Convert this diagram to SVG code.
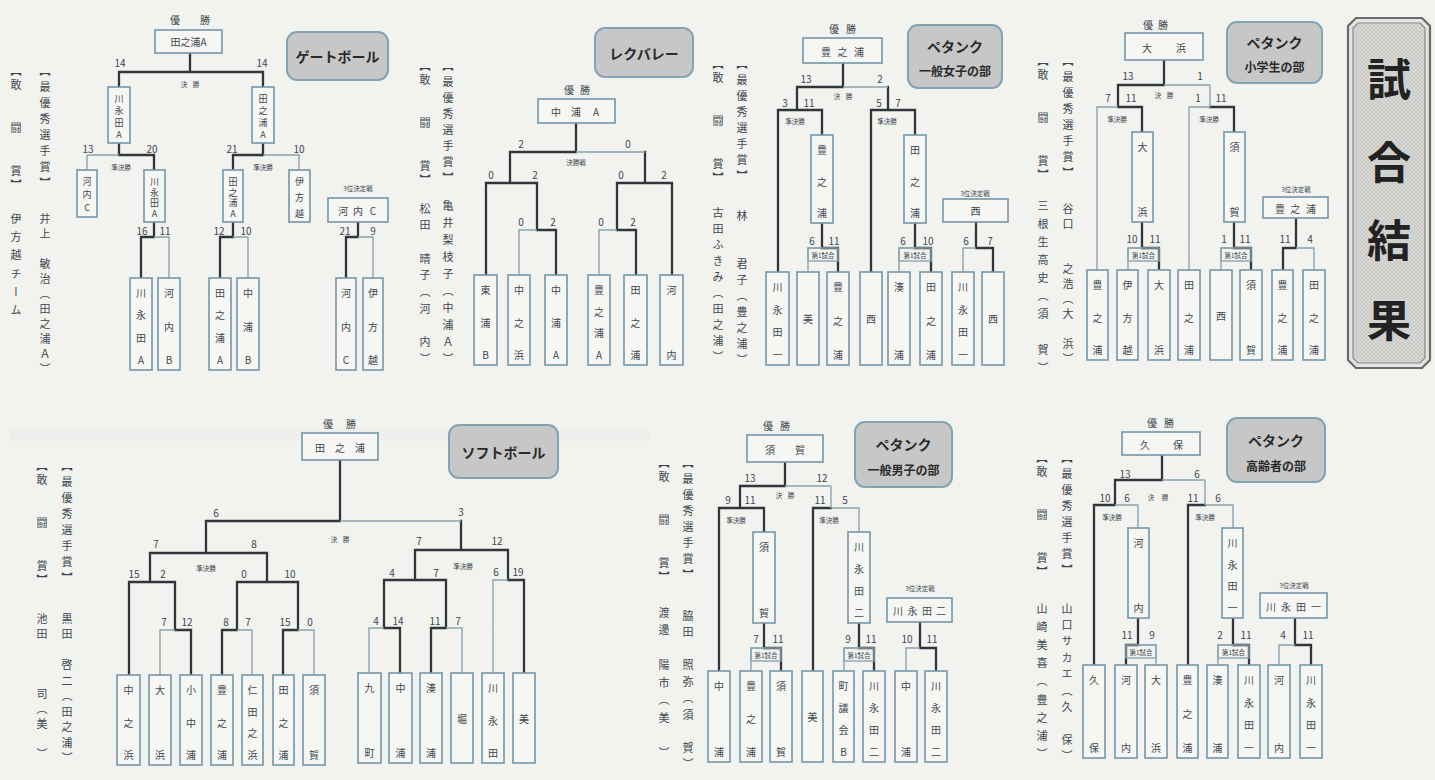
<svg xmlns="http://www.w3.org/2000/svg" width="1435" height="780" viewBox="0 0 1435 780">
<defs>
<pattern id="hatch" width="4" height="4" patternUnits="userSpaceOnUse">
<rect width="4" height="4" fill="#d7d7d5"/>
<path d="M0,4L4,0M0,0L4,4" stroke="#c4c4c2" stroke-width="0.7"/>
</pattern>
<style>
.bx{fill:#f6f6f3;stroke:#7497aa;stroke-width:1.6}
.tt{fill:#c6c7c6;stroke:#84a3b2;stroke-width:2}
.ln{fill:none;stroke:#8ba4b1;stroke-width:1.4}
.tk{fill:none;stroke:#30363b;stroke-width:2.3;stroke-linecap:square}
.t{font-family:"Noto Sans CJK JP","Noto Sans",sans-serif;fill:#3d4851;dominant-baseline:central}
.bl{font-size:10px;text-anchor:middle}
.b9{font-size:9px;text-anchor:middle}
.sc{font-size:10px;text-anchor:middle}
.sm{font-size:6.5px;text-anchor:middle}
.hd{font-size:10px;text-anchor:middle}
.ti{font-size:14px;font-weight:700;text-anchor:middle;fill:#2a2a2a}
.ti2{font-size:12px;font-weight:700;text-anchor:middle;fill:#2a2a2a}
.aw{font-size:11px;writing-mode:vertical-rl;text-orientation:mixed}
.big{font-size:44px;font-weight:700;text-anchor:middle;fill:#222}
</style>
</defs>
<rect width="1435" height="780" fill="#f2f2ef"/>
<rect x="10" y="430" width="640" height="11" fill="#c3cad0" opacity="0.07"/>

<!-- ================= GATEBALL ================= -->
<g id="gateball">
<g id="g1-title"><rect class="tt" x="287" y="32" width="101" height="48" rx="10"/><text class="t ti" x="337.5" y="56">ゲートボール</text></g>
<g id="g1-awards">
<text class="t aw" x="45" y="65" letter-spacing="5">【最優秀選手賞】</text>
<text class="t aw" x="45" y="213" letter-spacing="4">井上　敏治（田之浦Ａ）</text>
<text class="t aw" x="16" y="65" letter-spacing="3.3">【敢　　闘　　賞】</text>
<text class="t aw" x="16" y="213" letter-spacing="7.3">伊方越チーム</text>
</g>
<g id="g1-conn">
<path class="tk" d="M190,53V72 M119,72H263 M119,72V87 M263,72V87 M119,143V155H154V170 M263,143V155H233V170 M154,222V237H141V278 M233,222V237H220V278 M358,222V237H346V278"/>
<path class="ln" d="M87,155H119 M87,155V170 M263,155H299V170 M154,237H169V278 M233,237H248V278 M358,237H373V278"/>
</g>
<g id="g1-labels">
<text class="t hd" y="19"><tspan x="175">優</tspan><tspan x="205">勝</tspan></text>
<text class="t sc" x="120" y="62">14</text><text class="t sc" x="262" y="62">14</text>
<text class="t sm" y="84"><tspan x="184">決</tspan><tspan x="196">勝</tspan></text>
<text class="t sc" x="88" y="148">13</text><text class="t sc" x="152" y="148">20</text><text class="t sm" x="121" y="167">準決勝</text>
<text class="t sc" x="232" y="148">21</text><text class="t sc" x="299" y="148">10</text><text class="t sm" x="263" y="167">準決勝</text>
<text class="t sc" x="142" y="230">16</text><text class="t sc" x="165" y="230">11</text>
<text class="t sc" x="219" y="230">12</text><text class="t sc" x="246" y="230">10</text>
<text class="t sc" x="345" y="230">21</text><text class="t sc" x="373" y="230">9</text>
<text class="t sm" x="358" y="188">3位決定戦</text>
</g>
<g id="g1-champ"><rect class="bx" x="155" y="30" width="67" height="23"/><text class="t bl" x="188.5" y="41.5">田之浦A</text></g>
<g id="g1-s1"><rect class="bx" x="108" y="87" width="22" height="56"/><text class="t b9"><tspan x="119" y="98">川</tspan><tspan x="119" y="110">永</tspan><tspan x="119" y="122">田</tspan><tspan x="119" y="134">A</tspan></text></g>
<g id="g1-s2"><rect class="bx" x="252" y="87" width="22" height="56"/><text class="t b9"><tspan x="263" y="98">田</tspan><tspan x="263" y="110">之</tspan><tspan x="263" y="122">浦</tspan><tspan x="263" y="134">A</tspan></text></g>
<g id="g1-q1"><rect class="bx" x="77" y="170" width="20" height="47"/><text class="t b9"><tspan x="87" y="181">河</tspan><tspan x="87" y="194">内</tspan><tspan x="87" y="207">C</tspan></text></g>
<g id="g1-q2"><rect class="bx" x="144" y="170" width="21" height="52"/><text class="t b9"><tspan x="154.5" y="181">川</tspan><tspan x="154.5" y="191.7">永</tspan><tspan x="154.5" y="202.3">田</tspan><tspan x="154.5" y="213">A</tspan></text></g>
<g id="g1-q3"><rect class="bx" x="223" y="170" width="20" height="52"/><text class="t b9"><tspan x="233" y="181">田</tspan><tspan x="233" y="191.7">之</tspan><tspan x="233" y="202.3">浦</tspan><tspan x="233" y="213">A</tspan></text></g>
<g id="g1-q4"><rect class="bx" x="289" y="170" width="21" height="52"/><text class="t b9"><tspan x="299.5" y="181">伊</tspan><tspan x="299.5" y="197">方</tspan><tspan x="299.5" y="213">越</tspan></text></g>
<g id="g1-p1"><rect class="bx" x="130" y="278" width="22" height="92"/><text class="t bl"><tspan x="141" y="292">川</tspan><tspan x="141" y="314.3">永</tspan><tspan x="141" y="336.7">田</tspan><tspan x="141" y="359">A</tspan></text></g>
<g id="g1-p2"><rect class="bx" x="158" y="278" width="22" height="92"/><text class="t bl"><tspan x="169" y="292">河</tspan><tspan x="169" y="325.5">内</tspan><tspan x="169" y="359">B</tspan></text></g>
<g id="g1-p3"><rect class="bx" x="209" y="278" width="22" height="92"/><text class="t bl"><tspan x="220" y="292">田</tspan><tspan x="220" y="314.3">之</tspan><tspan x="220" y="336.7">浦</tspan><tspan x="220" y="359">A</tspan></text></g>
<g id="g1-p4"><rect class="bx" x="237" y="278" width="22" height="92"/><text class="t bl"><tspan x="248" y="292">中</tspan><tspan x="248" y="325.5">浦</tspan><tspan x="248" y="359">B</tspan></text></g>
<g id="g1-third"><rect class="bx" x="328" y="198" width="60" height="24"/><text class="t bl" y="210"><tspan x="343">河</tspan><tspan x="358">内</tspan><tspan x="373">C</tspan></text></g>
<g id="g1-p5"><rect class="bx" x="336" y="278" width="20" height="92"/><text class="t bl"><tspan x="346" y="292">河</tspan><tspan x="346" y="325.5">内</tspan><tspan x="346" y="359">C</tspan></text></g>
<g id="g1-p6"><rect class="bx" x="363" y="278" width="20" height="92"/><text class="t bl"><tspan x="373" y="292">伊</tspan><tspan x="373" y="325.5">方</tspan><tspan x="373" y="359">越</tspan></text></g>
</g>

<!-- ================= VOLLEYBALL ================= -->
<g id="volleyball">
<g id="v-title"><rect class="tt" x="595" y="28" width="98" height="49" rx="10"/><text class="t ti" x="644" y="53" font-size="15">レクバレー</text></g>
<g id="v-awards">
<text class="t aw" x="448" y="60" letter-spacing="5">【最優秀選手賞】</text>
<text class="t aw" x="448" y="200" letter-spacing="6">亀井梨枝子（中浦Ａ）</text>
<text class="t aw" x="425" y="60" letter-spacing="3.3">【敢　　闘　　賞】</text>
<text class="t aw" x="425" y="203" letter-spacing="5.7">松田　晴子（河　内）</text>
</g>
<g id="v-conn">
<path class="tk" d="M576,123V152 M510,152H576 M510,152V183 M510,183H486V275 M510,183H537V230H556V275 M645,152V183 M617,183H672 M672,183V275 M617,183V230H636V275"/>
<path class="ln" d="M576,152H645 M537,230H519V275 M617,230H599V275"/>
</g>
<g id="v-labels">
<text class="t hd" y="89"><tspan x="569">優</tspan><tspan x="585">勝</tspan></text>
<text class="t sc" x="521" y="143">2</text><text class="t sc" x="628" y="143">0</text>
<text class="t sm" x="576" y="162">決勝戦</text>
<text class="t sc" x="491" y="174">0</text><text class="t sc" x="535" y="174">2</text>
<text class="t sc" x="621" y="174">0</text><text class="t sc" x="664" y="174">2</text>
<text class="t sc" x="521" y="221">0</text><text class="t sc" x="553" y="221">2</text>
<text class="t sc" x="601" y="221">0</text><text class="t sc" x="633" y="221">2</text>
</g>
<g id="v-champ"><rect class="bx" x="538" y="99" width="77" height="24"/><text class="t bl" y="111"><tspan x="556">中</tspan><tspan x="576">浦</tspan><tspan x="596">A</tspan></text></g>
<g id="v-p1"><rect class="bx" x="474" y="275" width="23" height="90"/><text class="t bl"><tspan x="485.5" y="289">東</tspan><tspan x="485.5" y="321.5">浦</tspan><tspan x="485.5" y="354">B</tspan></text></g>
<g id="v-p2"><rect class="bx" x="508" y="275" width="22" height="90"/><text class="t bl"><tspan x="519" y="289">中</tspan><tspan x="519" y="321.5">之</tspan><tspan x="519" y="354">浜</tspan></text></g>
<g id="v-p3"><rect class="bx" x="545" y="275" width="22" height="90"/><text class="t bl"><tspan x="556" y="289">中</tspan><tspan x="556" y="321.5">浦</tspan><tspan x="556" y="354">A</tspan></text></g>
<g id="v-p4"><rect class="bx" x="588" y="275" width="22" height="90"/><text class="t bl"><tspan x="599" y="289">豊</tspan><tspan x="599" y="310.7">之</tspan><tspan x="599" y="332.3">浦</tspan><tspan x="599" y="354">A</tspan></text></g>
<g id="v-p5"><rect class="bx" x="624" y="275" width="23" height="90"/><text class="t bl"><tspan x="635.5" y="289">田</tspan><tspan x="635.5" y="321.5">之</tspan><tspan x="635.5" y="354">浦</tspan></text></g>
<g id="v-p6"><rect class="bx" x="660" y="275" width="23" height="90"/><text class="t bl"><tspan x="671.5" y="289">河</tspan><tspan x="671.5" y="354">内</tspan></text></g>
</g>

<!-- ================= PETANQUE WOMEN ================= -->
<g id="petanque-women">
<g id="w-title"><rect class="tt" x="908" y="25" width="94" height="63" rx="10"/><text class="t ti" x="955" y="46">ペタンク</text><text class="t ti2" x="955" y="70">一般女子の部</text></g>
<g id="w-awards">
<text class="t aw" x="742" y="58" letter-spacing="5">【最優秀選手賞】</text>
<text class="t aw" x="742" y="210" letter-spacing="5">林　　君子（豊之浦）</text>
<text class="t aw" x="718" y="58" letter-spacing="3.3">【敢　　闘　　賞】</text>
<text class="t aw" x="718" y="207" letter-spacing="5">古田ふきみ（田之浦）</text>
</g>
<g id="w-conn">
<path class="tk" d="M843,63V87 M797,87H843 M797,87V110 M797,110H822V135 M797,110H778V272 M888,87V110 M888,110H915V135 M888,110H871V272 M822,223V248H838V272 M915,223V248H931V272 M976,222V248H993V272"/>
<path class="ln" d="M843,87H888 M822,248H808V272 M915,248H899V272 M976,248H963V272"/>
<rect class="ln" x="808" y="248" width="30" height="13"/>
<rect class="ln" x="899" y="248" width="32" height="13"/>
</g>
<g id="w-labels">
<text class="t hd" y="28"><tspan x="834">優</tspan><tspan x="851">勝</tspan></text>
<text class="t sc" x="806" y="78">13</text><text class="t sc" x="880" y="78">2</text>
<text class="t sm" y="96"><tspan x="837">決</tspan><tspan x="849">勝</tspan></text>
<text class="t sc" x="785" y="102">3</text><text class="t sc" x="809" y="102">11</text><text class="t sm" x="795" y="121">準決勝</text>
<text class="t sc" x="879" y="102">5</text><text class="t sc" x="898" y="102">7</text><text class="t sm" x="887" y="121">準決勝</text>
<text class="t sc" x="812" y="240">6</text><text class="t sc" x="834" y="240">11</text><text class="t sm" x="823" y="255" font-size="6">第1試合</text>
<text class="t sc" x="903" y="240">6</text><text class="t sc" x="928" y="240">10</text><text class="t sm" x="915" y="255" font-size="6">第1試合</text>
<text class="t sc" x="966" y="240">6</text><text class="t sc" x="990" y="240">7</text>
<text class="t sm" x="975" y="193">3位決定戦</text>
</g>
<g id="w-champ"><rect class="bx" x="803" y="38" width="79" height="25"/><text class="t bl" y="50.5"><tspan x="826">豊</tspan><tspan x="842.5">之</tspan><tspan x="859">浦</tspan></text></g>
<g id="w-s1"><rect class="bx" x="811" y="135" width="22" height="88"/><text class="t bl"><tspan x="822" y="149">豊</tspan><tspan x="822" y="180.5">之</tspan><tspan x="822" y="212">浦</tspan></text></g>
<g id="w-s2"><rect class="bx" x="904" y="135" width="22" height="88"/><text class="t bl"><tspan x="915" y="149">田</tspan><tspan x="915" y="180.5">之</tspan><tspan x="915" y="212">浦</tspan></text></g>
<g id="w-p1"><rect class="bx" x="766" y="272" width="23" height="93"/><text class="t bl"><tspan x="777.5" y="286">川</tspan><tspan x="777.5" y="308.7">永</tspan><tspan x="777.5" y="331.3">田</tspan><tspan x="777.5" y="354">一</tspan></text></g>
<g id="w-p2"><rect class="bx" x="797" y="272" width="22" height="93"/><text class="t bl" x="808" y="318.5">美</text></g>
<g id="w-p3"><rect class="bx" x="827" y="272" width="22" height="93"/><text class="t bl"><tspan x="838" y="286">豊</tspan><tspan x="838" y="320">之</tspan><tspan x="838" y="354">浦</tspan></text></g>
<g id="w-p4"><rect class="bx" x="860" y="272" width="22" height="93"/><text class="t bl" x="871" y="318.5">西</text></g>
<g id="w-p5"><rect class="bx" x="888" y="272" width="22" height="93"/><text class="t bl"><tspan x="899" y="286">湊</tspan><tspan x="899" y="354">浦</tspan></text></g>
<g id="w-p6"><rect class="bx" x="920" y="272" width="22" height="93"/><text class="t bl"><tspan x="931" y="286">田</tspan><tspan x="931" y="320">之</tspan><tspan x="931" y="354">浦</tspan></text></g>
<g id="w-third"><rect class="bx" x="943" y="199" width="65" height="23"/><text class="t bl" x="975.5" y="210.5">西</text></g>
<g id="w-p7"><rect class="bx" x="952" y="272" width="22" height="93"/><text class="t bl"><tspan x="963" y="286">川</tspan><tspan x="963" y="308.7">永</tspan><tspan x="963" y="331.3">田</tspan><tspan x="963" y="354">一</tspan></text></g>
<g id="w-p8"><rect class="bx" x="982" y="272" width="22" height="93"/><text class="t bl" x="993" y="318.5">西</text></g>
</g>

<!-- ================= PETANQUE KIDS ================= -->
<g id="petanque-kids">
<g id="k-title"><rect class="tt" x="1227" y="22" width="95" height="61" rx="10"/><text class="t ti" x="1274.5" y="42">ペタンク</text><text class="t ti2" x="1274.5" y="66">小学生の部</text></g>
<g id="k-awards">
<text class="t aw" x="1068" y="55" letter-spacing="5">【最優秀選手賞】</text>
<text class="t aw" x="1068" y="203" letter-spacing="4">谷口　　之浩（大　浜）</text>
<text class="t aw" x="1043" y="55" letter-spacing="3.3">【敢　　闘　　賞】</text>
<text class="t aw" x="1043" y="200" letter-spacing="7">三根生高史（須　賀）</text>
</g>
<g id="k-conn">
<path class="tk" d="M1164,60V85 M1118,85H1164 M1118,85V107 M1118,107H1142V132 M1210,107H1234V132 M1142,222V248H1159V270 M1234,222V248H1251V270 M1296,218V248H1283V270"/>
<path class="ln" d="M1118,107H1097V270 M1164,85H1210 M1210,85V107 M1210,107H1189V270 M1142,248H1128V270 M1234,248H1221V270 M1296,248H1314V270"/>
<rect class="ln" x="1128" y="248" width="31" height="13"/>
<rect class="ln" x="1221" y="248" width="30" height="13"/>
</g>
<g id="k-labels">
<text class="t hd" y="24"><tspan x="1148">優</tspan><tspan x="1163">勝</tspan></text>
<text class="t sc" x="1128" y="75">13</text><text class="t sc" x="1200" y="75">1</text>
<text class="t sm" y="95"><tspan x="1158">決</tspan><tspan x="1170">勝</tspan></text>
<text class="t sc" x="1108" y="97">7</text><text class="t sc" x="1131" y="97">11</text><text class="t sm" x="1117" y="119">準決勝</text>
<text class="t sc" x="1198" y="97">1</text><text class="t sc" x="1221" y="97">11</text><text class="t sm" x="1209" y="119">準決勝</text>
<text class="t sc" x="1132" y="238">10</text><text class="t sc" x="1155" y="238">11</text><text class="t sm" x="1143.5" y="255" font-size="6">第1試合</text>
<text class="t sc" x="1224" y="238">1</text><text class="t sc" x="1245" y="238">11</text><text class="t sm" x="1236" y="255" font-size="6">第1試合</text>
<text class="t sc" x="1285" y="238">11</text><text class="t sc" x="1310" y="238">4</text>
<text class="t sm" x="1296" y="189">3位決定戦</text>
</g>
<g id="k-champ"><rect class="bx" x="1125" y="33" width="78" height="27"/><text class="t bl" y="46.5"><tspan x="1147">大</tspan><tspan x="1181">浜</tspan></text></g>
<g id="k-s1"><rect class="bx" x="1132" y="132" width="21" height="90"/><text class="t bl"><tspan x="1142.5" y="146">大</tspan><tspan x="1142.5" y="211">浜</tspan></text></g>
<g id="k-s2"><rect class="bx" x="1224" y="132" width="21" height="90"/><text class="t bl"><tspan x="1234.5" y="146">須</tspan><tspan x="1234.5" y="211">賀</tspan></text></g>
<g id="k-p1"><rect class="bx" x="1087" y="270" width="21" height="90"/><text class="t bl"><tspan x="1097.5" y="284">豊</tspan><tspan x="1097.5" y="316.5">之</tspan><tspan x="1097.5" y="349">浦</tspan></text></g>
<g id="k-p2"><rect class="bx" x="1117" y="270" width="21" height="90"/><text class="t bl"><tspan x="1127.5" y="284">伊</tspan><tspan x="1127.5" y="316.5">方</tspan><tspan x="1127.5" y="349">越</tspan></text></g>
<g id="k-p3"><rect class="bx" x="1148" y="270" width="22" height="90"/><text class="t bl"><tspan x="1159" y="284">大</tspan><tspan x="1159" y="349">浜</tspan></text></g>
<g id="k-p4"><rect class="bx" x="1178" y="270" width="22" height="90"/><text class="t bl"><tspan x="1189" y="284">田</tspan><tspan x="1189" y="316.5">之</tspan><tspan x="1189" y="349">浦</tspan></text></g>
<g id="k-p5"><rect class="bx" x="1210" y="270" width="22" height="90"/><text class="t bl" x="1221" y="315">西</text></g>
<g id="k-p6"><rect class="bx" x="1240" y="270" width="22" height="90"/><text class="t bl"><tspan x="1251" y="284">須</tspan><tspan x="1251" y="349">賀</tspan></text></g>
<g id="k-third"><rect class="bx" x="1263" y="197" width="65" height="21"/><text class="t bl" y="207.5"><tspan x="1280">豊</tspan><tspan x="1295.5">之</tspan><tspan x="1311">浦</tspan></text></g>
<g id="k-p7"><rect class="bx" x="1272" y="270" width="21" height="90"/><text class="t bl"><tspan x="1282.5" y="284">豊</tspan><tspan x="1282.5" y="316.5">之</tspan><tspan x="1282.5" y="349">浦</tspan></text></g>
<g id="k-p8"><rect class="bx" x="1303" y="270" width="22" height="90"/><text class="t bl"><tspan x="1314" y="284">田</tspan><tspan x="1314" y="316.5">之</tspan><tspan x="1314" y="349">浦</tspan></text></g>
</g>

<!-- ================= HEADING ================= -->
<g id="heading">
<polygon points="1356,18 1422,18 1430,26 1430,360 1422,368 1356,368 1348,360 1348,26" fill="#e4e4e2" stroke="#6b6b6b" stroke-width="2.2"/>
<polygon points="1358,23 1420,23 1425,28 1425,358 1420,363 1358,363 1353,358 1353,28" fill="url(#hatch)" stroke="#8a8a8a" stroke-width="1.2"/>
<text class="t big"><tspan x="1389" y="77">試</tspan><tspan x="1389" y="160">合</tspan><tspan x="1389" y="238">結</tspan><tspan x="1389" y="318">果</tspan></text>
</g>

<!-- ================= SOFTBALL ================= -->
<g id="softball">
<g id="s-title"><rect class="tt" x="449" y="425" width="109" height="53" rx="10"/><text class="t ti" x="503.5" y="452" font-size="15">ソフトボール</text></g>
<g id="s-awards">
<text class="t aw" x="67" y="460" letter-spacing="5">【最優秀選手賞】</text>
<text class="t aw" x="67" y="613" letter-spacing="4.5">黒田　啓二（田之浦）</text>
<text class="t aw" x="42" y="460" letter-spacing="3.3">【敢　　闘　　賞】</text>
<text class="t aw" x="42" y="613" letter-spacing="4">池田　　　司（美　）</text>
</g>
<g id="s-conn">
<path class="tk" d="M340,460V521 M206,521H340 M206,521V553 M150,553H267 M150,553V582 M129,582H175 M129,582V675 M175,582V630H191V675 M267,553V582 M237,582H298 M237,582V630H222V675 M298,582V630H283V675 M461,521V550 M415,550H508 M415,550V580 M384,580H446 M384,580V628H400V673 M446,580V628H431V673 M508,550V580H524V673"/>
<path class="ln" d="M340,521H461 M175,630H160V675 M237,630H252V675 M298,630H314V675 M384,628H369V673 M446,628H462V673 M508,580H493V673"/>
</g>
<g id="s-labels">
<text class="t hd" y="423"><tspan x="328">優</tspan><tspan x="351">勝</tspan></text>
<text class="t sc" x="216" y="512">6</text><text class="t sc" x="461" y="511">3</text>
<text class="t sm" y="539"><tspan x="334">決</tspan><tspan x="346">勝</tspan></text>
<text class="t sc" x="156" y="543">7</text><text class="t sc" x="254" y="543">8</text><text class="t sm" x="206" y="568">準決勝</text>
<text class="t sc" x="134" y="573">15</text><text class="t sc" x="163" y="573">2</text>
<text class="t sc" x="244" y="573">0</text><text class="t sc" x="290" y="573">10</text>
<text class="t sc" x="164" y="621">7</text><text class="t sc" x="187" y="621">12</text>
<text class="t sc" x="226" y="621">8</text><text class="t sc" x="248" y="621">7</text>
<text class="t sc" x="285" y="621">15</text><text class="t sc" x="310" y="621">0</text>
<text class="t sc" x="419" y="540">7</text><text class="t sc" x="497" y="540">12</text><text class="t sm" x="463" y="566">準決勝</text>
<text class="t sc" x="392" y="572">4</text><text class="t sc" x="436" y="572">7</text>
<text class="t sc" x="496" y="571">6</text><text class="t sc" x="518" y="571">19</text>
<text class="t sc" x="376" y="620">4</text><text class="t sc" x="398" y="620">14</text>
<text class="t sc" x="435" y="620">11</text><text class="t sc" x="458" y="620">7</text>
</g>
<g id="s-champ"><rect class="bx" x="302" y="433" width="76" height="27"/><text class="t bl" y="446.5"><tspan x="320">田</tspan><tspan x="340">之</tspan><tspan x="360">浦</tspan></text></g>
<g id="s-p1"><rect class="bx" x="117" y="675" width="23" height="90"/><text class="t bl"><tspan x="128.5" y="689">中</tspan><tspan x="128.5" y="721.5">之</tspan><tspan x="128.5" y="754">浜</tspan></text></g>
<g id="s-p2"><rect class="bx" x="149" y="675" width="22" height="90"/><text class="t bl"><tspan x="160" y="689">大</tspan><tspan x="160" y="754">浜</tspan></text></g>
<g id="s-p3"><rect class="bx" x="180" y="675" width="22" height="90"/><text class="t bl"><tspan x="191" y="689">小</tspan><tspan x="191" y="721.5">中</tspan><tspan x="191" y="754">浦</tspan></text></g>
<g id="s-p4"><rect class="bx" x="211" y="675" width="22" height="90"/><text class="t bl"><tspan x="222" y="689">豊</tspan><tspan x="222" y="721.5">之</tspan><tspan x="222" y="754">浦</tspan></text></g>
<g id="s-p5"><rect class="bx" x="242" y="675" width="21" height="90"/><text class="t bl"><tspan x="252.5" y="689">仁</tspan><tspan x="252.5" y="710.7">田</tspan><tspan x="252.5" y="732.3">之</tspan><tspan x="252.5" y="754">浜</tspan></text></g>
<g id="s-p6"><rect class="bx" x="273" y="675" width="21" height="90"/><text class="t bl"><tspan x="283.5" y="689">田</tspan><tspan x="283.5" y="721.5">之</tspan><tspan x="283.5" y="754">浦</tspan></text></g>
<g id="s-p7"><rect class="bx" x="303" y="675" width="22" height="90"/><text class="t bl"><tspan x="314" y="689">須</tspan><tspan x="314" y="754">賀</tspan></text></g>
<g id="s-p8"><rect class="bx" x="358" y="673" width="23" height="90"/><text class="t bl"><tspan x="369.5" y="687">九</tspan><tspan x="369.5" y="752">町</tspan></text></g>
<g id="s-p9"><rect class="bx" x="389" y="673" width="23" height="90"/><text class="t bl"><tspan x="400.5" y="687">中</tspan><tspan x="400.5" y="752">浦</tspan></text></g>
<g id="s-p10"><rect class="bx" x="420" y="673" width="22" height="90"/><text class="t bl"><tspan x="431" y="687">湊</tspan><tspan x="431" y="752">浦</tspan></text></g>
<g id="s-p11"><rect class="bx" x="451" y="673" width="22" height="90"/><text class="t bl" x="462" y="718">堀</text></g>
<g id="s-p12"><rect class="bx" x="482" y="673" width="22" height="90"/><text class="t bl"><tspan x="493" y="687">川</tspan><tspan x="493" y="719.5">永</tspan><tspan x="493" y="752">田</tspan></text></g>
<g id="s-p13"><rect class="bx" x="513" y="673" width="22" height="90"/><text class="t bl" x="524" y="718">美</text></g>
</g>

<!-- ================= PETANQUE MEN ================= -->
<g id="petanque-men">
<g id="m-title"><rect class="tt" x="855" y="422" width="97" height="65" rx="10"/><text class="t ti" x="903.5" y="444">ペタンク</text><text class="t ti2" x="903.5" y="469">一般男子の部</text></g>
<g id="m-awards">
<text class="t aw" x="688" y="457" letter-spacing="5">【最優秀選手賞】</text>
<text class="t aw" x="688" y="610" letter-spacing="5.5">脇田　照弥（須　賀）</text>
<text class="t aw" x="664" y="457" letter-spacing="3.3">【敢　　闘　　賞】</text>
<text class="t aw" x="664" y="607" letter-spacing="6.5">渡邊　陽市（美　）</text>
</g>
<g id="m-conn">
<path class="tk" d="M785,462V486 M740,486H785 M740,486V508 M740,508H764V532 M740,508H719V671 M831,508H813V671 M764,623V648H781V671 M859,623V648H874V671 M920,622V648H936V671"/>
<path class="ln" d="M785,486H831 M831,486V508 M831,508H859V532 M764,648H751V671 M859,648H844V671 M920,648H906V671"/>
<rect class="ln" x="751" y="648" width="30" height="13"/>
<rect class="ln" x="844" y="648" width="30" height="13"/>
</g>
<g id="m-labels">
<text class="t hd" y="425"><tspan x="768">優</tspan><tspan x="785">勝</tspan></text>
<text class="t sc" x="750" y="477">13</text><text class="t sc" x="822" y="477">12</text>
<text class="t sm" y="495"><tspan x="779">決</tspan><tspan x="791">勝</tspan></text>
<text class="t sc" x="728" y="499">9</text><text class="t sc" x="750" y="499">11</text><text class="t sm" x="736" y="520">準決勝</text>
<text class="t sc" x="820" y="499">11</text><text class="t sc" x="845" y="499">5</text><text class="t sm" x="829" y="520">準決勝</text>
<text class="t sc" x="756" y="638">7</text><text class="t sc" x="778" y="638">11</text><text class="t sm" x="766" y="655" font-size="6">第1試合</text>
<text class="t sc" x="848" y="638">9</text><text class="t sc" x="871" y="638">11</text><text class="t sm" x="859" y="655" font-size="6">第1試合</text>
<text class="t sc" x="907" y="638">10</text><text class="t sc" x="932" y="638">11</text>
<text class="t sm" x="920" y="588">3位決定戦</text>
</g>
<g id="m-champ"><rect class="bx" x="747" y="435" width="76" height="27"/><text class="t bl" y="448.5"><tspan x="770">須</tspan><tspan x="800">賀</tspan></text></g>
<g id="m-s1"><rect class="bx" x="753" y="532" width="22" height="91"/><text class="t bl"><tspan x="764" y="546">須</tspan><tspan x="764" y="612">賀</tspan></text></g>
<g id="m-s2"><rect class="bx" x="848" y="532" width="22" height="91"/><text class="t bl"><tspan x="859" y="546">川</tspan><tspan x="859" y="568">永</tspan><tspan x="859" y="590">田</tspan><tspan x="859" y="612">二</tspan></text></g>
<g id="m-p1"><rect class="bx" x="708" y="671" width="22" height="91"/><text class="t bl"><tspan x="719" y="685">中</tspan><tspan x="719" y="751">浦</tspan></text></g>
<g id="m-p2"><rect class="bx" x="740" y="671" width="22" height="91"/><text class="t bl"><tspan x="751" y="685">豊</tspan><tspan x="751" y="718">之</tspan><tspan x="751" y="751">浦</tspan></text></g>
<g id="m-p3"><rect class="bx" x="770" y="671" width="22" height="91"/><text class="t bl"><tspan x="781" y="685">須</tspan><tspan x="781" y="751">賀</tspan></text></g>
<g id="m-p4"><rect class="bx" x="802" y="671" width="21" height="91"/><text class="t bl" x="812.5" y="716.5">美</text></g>
<g id="m-p5"><rect class="bx" x="833" y="671" width="21" height="91"/><text class="t bl"><tspan x="843.5" y="685">町</tspan><tspan x="843.5" y="707">議</tspan><tspan x="843.5" y="729">会</tspan><tspan x="843.5" y="751">B</tspan></text></g>
<g id="m-p6"><rect class="bx" x="863" y="671" width="22" height="91"/><text class="t bl"><tspan x="874" y="685">川</tspan><tspan x="874" y="707">永</tspan><tspan x="874" y="729">田</tspan><tspan x="874" y="751">二</tspan></text></g>
<g id="m-third"><rect class="bx" x="887" y="598" width="65" height="24"/><text class="t bl" y="610"><tspan x="898">川</tspan><tspan x="912.5">永</tspan><tspan x="927">田</tspan><tspan x="941">二</tspan></text></g>
<g id="m-p7"><rect class="bx" x="895" y="671" width="22" height="91"/><text class="t bl"><tspan x="906" y="685">中</tspan><tspan x="906" y="751">浦</tspan></text></g>
<g id="m-p8"><rect class="bx" x="925" y="671" width="22" height="91"/><text class="t bl"><tspan x="936" y="685">川</tspan><tspan x="936" y="707">永</tspan><tspan x="936" y="729">田</tspan><tspan x="936" y="751">二</tspan></text></g>
</g>

<!-- ================= PETANQUE SENIORS ================= -->
<g id="petanque-seniors">
<g id="o-title"><rect class="tt" x="1227" y="418" width="98" height="64" rx="10"/><text class="t ti" x="1276" y="440">ペタンク</text><text class="t ti2" x="1276" y="465">高齢者の部</text></g>
<g id="o-awards">
<text class="t aw" x="1067" y="452" letter-spacing="5">【最優秀選手賞】</text>
<text class="t aw" x="1067" y="603" letter-spacing="5.4">山口サカエ（久　保）</text>
<text class="t aw" x="1042" y="452" letter-spacing="3.3">【敢　　闘　　賞】</text>
<text class="t aw" x="1042" y="603" letter-spacing="7.2">山崎美喜（豊之浦）</text>
</g>
<g id="o-conn">
<path class="tk" d="M1162,455V480 M1115,480H1162 M1115,480V505 M1115,505H1094V665 M1205,505H1188V665 M1138,618V645H1126V665 M1233,618V645H1249V665 M1295,618V645H1311V665"/>
<path class="ln" d="M1162,480H1205 M1205,480V505 M1115,505H1138V528 M1205,505H1233V528 M1138,645H1156V665 M1233,645H1218V665 M1295,645H1279V665"/>
<rect class="ln" x="1126" y="645" width="30" height="13"/>
<rect class="ln" x="1218" y="645" width="31" height="13"/>
</g>
<g id="o-labels">
<text class="t hd" y="422"><tspan x="1152">優</tspan><tspan x="1169">勝</tspan></text>
<text class="t sc" x="1125" y="473">13</text><text class="t sc" x="1197" y="473">6</text>
<text class="t sm" y="497"><tspan x="1151">決</tspan><tspan x="1165">勝</tspan></text>
<text class="t sc" x="1105" y="497">10</text><text class="t sc" x="1127" y="497">6</text><text class="t sm" x="1112" y="517">準決勝</text>
<text class="t sc" x="1193" y="497">11</text><text class="t sc" x="1218" y="497">6</text><text class="t sm" x="1205" y="517">準決勝</text>
<text class="t sc" x="1127" y="634">11</text><text class="t sc" x="1152" y="634">9</text><text class="t sm" x="1141" y="652" font-size="6">第1試合</text>
<text class="t sc" x="1220" y="634">2</text><text class="t sc" x="1246" y="634">11</text><text class="t sm" x="1233.5" y="652" font-size="6">第1試合</text>
<text class="t sc" x="1283" y="634">4</text><text class="t sc" x="1308" y="634">11</text>
<text class="t sm" x="1294" y="585">3位決定戦</text>
</g>
<g id="o-champ"><rect class="bx" x="1122" y="432" width="78" height="23"/><text class="t bl" y="443.5"><tspan x="1145">久</tspan><tspan x="1178">保</tspan></text></g>
<g id="o-s1"><rect class="bx" x="1128" y="528" width="21" height="90"/><text class="t bl"><tspan x="1138.5" y="542">河</tspan><tspan x="1138.5" y="607">内</tspan></text></g>
<g id="o-s2"><rect class="bx" x="1222" y="528" width="21" height="90"/><text class="t bl"><tspan x="1232.5" y="542">川</tspan><tspan x="1232.5" y="563.7">永</tspan><tspan x="1232.5" y="585.3">田</tspan><tspan x="1232.5" y="607">一</tspan></text></g>
<g id="o-p1"><rect class="bx" x="1083" y="665" width="22" height="93"/><text class="t bl"><tspan x="1094" y="679">久</tspan><tspan x="1094" y="747">保</tspan></text></g>
<g id="o-p2"><rect class="bx" x="1115" y="665" width="22" height="93"/><text class="t bl"><tspan x="1126" y="679">河</tspan><tspan x="1126" y="747">内</tspan></text></g>
<g id="o-p3"><rect class="bx" x="1145" y="665" width="22" height="93"/><text class="t bl"><tspan x="1156" y="679">大</tspan><tspan x="1156" y="747">浜</tspan></text></g>
<g id="o-p4"><rect class="bx" x="1177" y="665" width="21" height="93"/><text class="t bl"><tspan x="1187.5" y="679">豊</tspan><tspan x="1187.5" y="713">之</tspan><tspan x="1187.5" y="747">浦</tspan></text></g>
<g id="o-p5"><rect class="bx" x="1207" y="665" width="21" height="93"/><text class="t bl"><tspan x="1217.5" y="679">湊</tspan><tspan x="1217.5" y="747">浦</tspan></text></g>
<g id="o-p6"><rect class="bx" x="1238" y="665" width="22" height="93"/><text class="t bl"><tspan x="1249" y="679">川</tspan><tspan x="1249" y="701.7">永</tspan><tspan x="1249" y="724.3">田</tspan><tspan x="1249" y="747">一</tspan></text></g>
<g id="o-third"><rect class="bx" x="1260" y="593" width="67" height="25"/><text class="t bl" y="605.5"><tspan x="1271">川</tspan><tspan x="1286">永</tspan><tspan x="1301">田</tspan><tspan x="1316">一</tspan></text></g>
<g id="o-p7"><rect class="bx" x="1268" y="665" width="22" height="93"/><text class="t bl"><tspan x="1279" y="679">河</tspan><tspan x="1279" y="747">内</tspan></text></g>
<g id="o-p8"><rect class="bx" x="1300" y="665" width="22" height="93"/><text class="t bl"><tspan x="1311" y="679">川</tspan><tspan x="1311" y="701.7">永</tspan><tspan x="1311" y="724.3">田</tspan><tspan x="1311" y="747">一</tspan></text></g>
</g>
</svg>
